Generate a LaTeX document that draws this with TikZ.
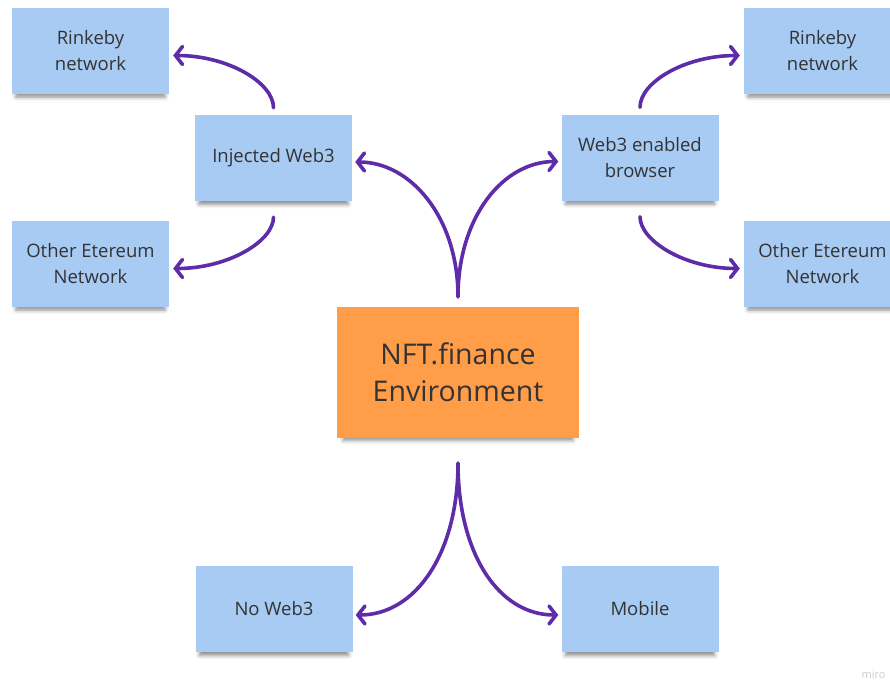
\documentclass[tikz,border=0pt]{standalone}
\usepackage{xcolor}
\usepackage{fontspec}
\setmainfont{Open Sans}
\usepackage{tikz}
\usetikzlibrary{arrows.meta,shadows.blur}

\definecolor{noteblue}{HTML}{A7CBF3}
\definecolor{noteorange}{HTML}{FF9D48}
\definecolor{linkpurple}{HTML}{5E2CA8}
\definecolor{notetext}{HTML}{333333}

\begin{document}
\begin{tikzpicture}[x=1pt, y=-1pt]
	\useasboundingbox (0, 0) rectangle (890, 683);
	\clip (0, 0) rectangle (890, 683);
	
	\begin{scope}[
		note/.style={align=center, fill=noteblue, text=notetext, minimum width=157pt, minimum height=86pt, inner sep=0pt, font=\fontsize{18.5}{26}\selectfont,
			blur shadow={shadow xshift=0pt, shadow yshift=-6pt, shadow scale=0.95, shadow opacity=45, shadow blur radius=4pt}},
		bignote/.style={note, fill=noteorange, minimum width=242pt, minimum height=131pt, font=\fontsize{28.5}{37}\selectfont}]
		\node[bignote] (NFT) at (458, 372.5) {NFT.finance\\Environment};
		
		\node[note] (IW) at (273.5, 158) {Injected Web3};
		\node[note] (R1) at (90.5, 50.5) {Rinkeby\\network};
		\node[note] (O1) at (90.5, 263.5) {Other Etereum\\Network};
		
		\node[note] (WB) at (640, 157.5) {Web3 enabled\\browser};
		\node[note] (R2) at (822.5, 50.5) {Rinkeby\\network};
		\node[note] (O2) at (822.5, 263.5) {Other Etereum\\Network};
		
		\node[note] (NW) at (274, 609) {No Web3};
		\node[note] (MB) at (640, 609) {Mobile};
	\end{scope}
	
	\node[anchor=east, text=black!20, font=\fontsize{11}{13}\selectfont] (miro) at (889, 675) {miro};
	
	\tikzset{link/.style={draw=linkpurple, line width=3.6pt, line cap=round, -{Straight Barb[length=7pt, width=18pt, line cap=round]}}}
	
	% from the environment note
	\draw[link, shorten <=10pt] (NFT.north) .. controls +(0, -90) and +(55, 0) .. ([yshift=-4pt, xshift=3pt]IW.east);
	\draw[link, shorten <=10pt] (NFT.north) .. controls +(0, -90) and +(-55, 0) .. ([yshift=-4pt, xshift=-3pt]WB.west);
	\draw[link, shorten <=25pt] (NFT.south) .. controls +(0, 115) and +(60, 0) .. ([yshift=-6pt, xshift=3pt]NW.east);
	\draw[link, shorten <=25pt] (NFT.south) .. controls +(0, 115) and +(-60, 0) .. ([yshift=-6pt, xshift=-3pt]MB.west);
	
	% injected web3
	\draw[link, shorten <=7pt] (IW.north) .. controls +(0, -32) and +(55, 0) .. ([yshift=-5pt, xshift=4pt]R1.east);
	\draw[link, shorten <=16pt] (IW.south) .. controls +(0, 40) and +(55, 0) .. ([yshift=-5pt, xshift=4pt]O1.east);
	
	% web3 enabled browser
	\draw[link, shorten <=7pt] (WB.north) .. controls +(0, -32) and +(-55, 0) .. ([yshift=-5pt, xshift=-4pt]R2.west);
	\draw[link, shorten <=16pt] (WB.south) .. controls +(0, 40) and +(-55, 0) .. ([yshift=-5pt, xshift=-4pt]O2.west);
\end{tikzpicture}
\end{document}
